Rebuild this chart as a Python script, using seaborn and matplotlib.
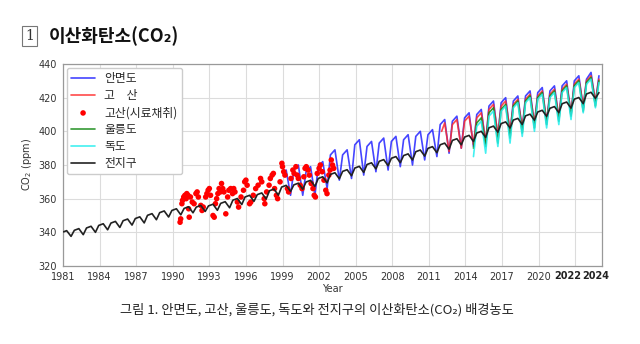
import matplotlib
matplotlib.use('Agg')
import matplotlib.pyplot as plt
import seaborn as sns
import pandas as pd

# ---------------- data ----------------
# Global mean (black): spring max, late-summer min and December value per year
global_years = list(range(1981, 2025))
global_max = [341.0, 342.2, 343.6, 345.1, 346.5, 347.9, 349.2, 351.1, 352.7, 354.0,
              355.2, 356.0, 356.7, 358.2, 360.1, 362.0, 363.4, 365.7, 367.9, 369.2,
              370.9, 373.0, 375.4, 377.2, 379.2, 381.3, 383.2, 385.0, 386.6, 388.9,
              390.9, 393.0, 395.6, 397.6, 400.0, 403.1, 405.6, 407.7, 410.2, 412.5,
              414.7, 417.4, 420.1, 423.2]
global_min = [337.6, 338.6, 340.0, 341.5, 342.9, 344.3, 345.6, 347.5, 349.1, 350.4,
              351.6, 352.4, 353.1, 354.6, 356.5, 358.4, 359.8, 362.1, 364.3, 365.6,
              367.3, 369.4, 371.8, 373.6, 375.6, 377.7, 379.6, 381.4, 383.0, 385.3,
              387.3, 389.4, 392.0, 394.0, 396.4, 399.5, 402.0, 404.1, 406.6, 408.9,
              411.1, 413.8, 416.5, 419.6]
global_dec_years = list(range(1981, 2024))
global_dec = [341.2, 342.6, 344.1, 345.5, 346.9, 348.2, 350.1, 351.7, 353.0, 354.2,
              355.0, 355.7, 357.2, 359.1, 361.0, 362.4, 364.7, 366.9, 368.2, 369.9,
              372.0, 374.4, 376.2, 378.2, 380.3, 382.2, 384.0, 385.6, 387.9, 389.9,
              392.0, 394.6, 396.6, 399.0, 402.1, 404.6, 406.7, 409.2, 411.5, 413.7,
              416.4, 419.1, 422.2]
global_start = 340.3
global_end = 423.0

# Anmyeondo (blue)
anm_years = list(range(1999, 2025))
anm_max = [377, 380, 379, 382, 389, 389, 395, 394, 396, 397, 398, 400, 401,
           407, 409, 411, 413, 418, 420, 421, 424, 426, 427, 430, 433, 435]
anm_min = [362, 362, 362, 366, 371, 372, 374, 376, 377, 379, 380, 383, 385,
           387, 390, 391, 393, 397, 399, 401, 404, 405, 408, 410, 414, 417]
anm_dec_years = list(range(1999, 2024))
anm_dec = [377, 376, 379, 386, 386, 392, 391, 393, 394, 395, 397, 398, 404,
           406, 408, 410, 415, 417, 418, 421, 423, 424, 427, 430, 431]
anm_end = 433

# Gosan continuous (red line)
gos_years = list(range(2012, 2025))
gos_max = [405, 407, 409, 411, 416, 418, 419, 422, 424, 425, 428, 431, 433]
gos_min = [388, 390, 392, 394, 398, 400, 402, 405, 406, 409, 411, 415, 418]
gos_dec_years = list(range(2012, 2024))
gos_dec = [404, 406, 408, 413, 415, 416, 419, 421, 422, 425, 428, 430]
gos_start = 400
gos_end = 431

# Ulleungdo (green)
ull_years_max = list(range(2015, 2025))
ull_max = [408, 414, 416, 418, 421, 423, 424, 427, 430, 432]
ull_years_min = list(range(2014, 2025))
ull_min = [390, 391, 393, 396, 399, 402, 404, 406, 409, 412, 415]
ull_dec_years = list(range(2014, 2024))
ull_dec = [405, 411, 413, 415, 418, 420, 421, 424, 427, 429]
ull_end = 430

# Dokdo (cyan)
dok_years_max = list(range(2015, 2025))
dok_max = [406, 412, 415, 417, 420, 422, 423, 426, 429, 431]
dok_years_min = list(range(2014, 2025))
dok_min = [385, 387, 391, 393, 397, 400, 402, 404, 407, 411, 414]
dok_dec_years = list(range(2014, 2024))
dok_dec = [403, 409, 412, 414, 417, 419, 420, 423, 426, 428]
dok_end = 429

# Gosan flask samples (red dots)
flask_t = [1990.6, 1990.65, 1990.75, 1990.8, 1990.9, 1991.0, 1991.1, 1991.15, 1991.25, 1991.3,
           1991.35, 1991.45, 1991.6, 1991.75, 1991.9, 1992.0, 1992.1, 1992.3, 1992.4, 1992.5,
           1992.7, 1992.8, 1992.9, 1993.0, 1993.1, 1993.3, 1993.4, 1993.5, 1993.6, 1993.7,
           1993.8, 1993.9, 1994.0, 1994.1, 1994.2, 1994.35, 1994.5, 1994.6, 1994.75, 1994.9,
           1995.0, 1995.1, 1995.3, 1995.4, 1995.6, 1995.8, 1995.9, 1996.0, 1996.1, 1996.3,
           1996.4, 1996.6, 1996.8, 1997.0, 1997.2, 1997.3, 1997.5, 1997.55, 1997.7, 1997.9,
           1998.0, 1998.15, 1998.25, 1998.35, 1998.5, 1998.6, 1998.8, 1998.95, 1999.0, 1999.1,
           1999.2, 1999.4, 1999.5, 1999.7, 1999.85, 1999.95, 2000.1, 2000.2, 2000.3, 2000.45,
           2000.6, 2000.75, 2000.85, 2000.95, 2001.1, 2001.2, 2001.35, 2001.5, 2001.6, 2001.7,
           2001.85, 2002.0, 2002.1, 2002.25, 2002.4, 2002.55, 2002.65, 2002.8, 2002.9, 2003.0,
           2003.1, 2003.2]
flask_v = [346, 348, 357, 359, 361, 362, 360, 363, 362, 354,
           349, 361, 358, 357, 363, 364, 361, 356, 353, 355,
           361, 363, 365, 366, 362, 350, 349, 357, 360, 363,
           366, 364, 369, 366, 364, 351, 361, 365, 366, 363,
           366, 364, 358, 355, 361, 365, 370, 371, 368, 357,
           358, 362, 366, 368, 372, 370, 360, 357, 364, 368,
           372, 374, 375, 366, 362, 360, 370, 381, 379, 376,
           374, 366, 364, 372, 377, 375, 379, 374, 372, 368,
           366, 373, 378, 379, 377, 374, 369, 366, 362, 361,
           375, 378, 380, 376, 371, 365, 363, 374, 377, 383,
           380, 378]

x_ticks = list(range(1981, 2024, 3))
x_labels = [str(y) for y in range(1981, 2021, 3)] + ['']
y_ticks = [320, 340, 360, 380, 400, 420, 440]

labels = ['안면도', '고\u3000산', '고산(시료채취)', '울릉도', '독도', '전지구']
colors = ['#2424ff', '#ff2b2b', '#ff0000', '#118811', '#22eeee', '#222222']


def saw(max_years, vmax, min_years, vmin, dec_years, vdec, first=None, last=None):
    t = ([y + 0.30 for y in max_years] + [y + 0.66 for y in min_years]
         + [y + 0.93 for y in dec_years])
    v = list(vmax) + list(vmin) + list(vdec)
    if first is not None:
        t.append(min(t) - 0.25)
        v.append(first)
    if last is not None:
        t.append(max(max_years + min_years) + 0.95)
        v.append(last)
    return pd.DataFrame({'t': t, 'v': v}).sort_values('t')


df_glob = saw(global_years, global_max, global_years, global_min,
              global_dec_years, global_dec, global_start, global_end)
df_anm = saw(anm_years, anm_max, anm_years, anm_min, anm_dec_years, anm_dec, None, anm_end)
df_gos = saw(gos_years, gos_max, gos_years, gos_min, gos_dec_years, gos_dec, gos_start, gos_end)
df_ull = saw(ull_years_max, ull_max, ull_years_min, ull_min, ull_dec_years, ull_dec, None, ull_end)
df_dok = saw(dok_years_max, dok_max, dok_years_min, dok_min, dok_dec_years, dok_dec, None, dok_end)
df_flask = pd.DataFrame({'t': flask_t, 'v': flask_v})

# ---------------- plot ----------------
sns.set_theme(style='whitegrid')
plt.rcParams['font.family'] = ['DejaVu Sans', 'Noto Sans CJK KR']
KR = ['Noto Sans CJK KR', 'DejaVu Sans']

fig = plt.figure(figsize=(6.4, 3.44), dpi=100)
ax = fig.add_axes([63 / 640, 78 / 344, 539 / 640, 202 / 344])
ax.set_facecolor('white')

lw = 1.2
sns.lineplot(data=df_anm, x='t', y='v', ax=ax, color=colors[0], lw=lw, alpha=0.85,
             estimator=None, sort=False, label=labels[0])
sns.lineplot(data=df_gos, x='t', y='v', ax=ax, color=colors[1], lw=lw, alpha=0.85,
             estimator=None, sort=False, label=labels[1])
sns.scatterplot(data=df_flask, x='t', y='v', ax=ax, color=colors[2], s=16,
                edgecolor='none', label=labels[2], zorder=3)
sns.lineplot(data=df_ull, x='t', y='v', ax=ax, color=colors[3], lw=lw, alpha=0.85,
             estimator=None, sort=False, label=labels[3])
sns.lineplot(data=df_dok, x='t', y='v', ax=ax, color=colors[4], lw=lw, alpha=0.85,
             estimator=None, sort=False, label=labels[4])
sns.lineplot(data=df_glob, x='t', y='v', ax=ax, color=colors[5], lw=lw,
             estimator=None, sort=False, label=labels[5], zorder=4)

ax.set_xlim(1981, 2025.2)
ax.set_ylim(320, 440)
ax.set_xticks(x_ticks)
ax.set_xticklabels(x_labels)
ax.set_yticks(y_ticks)
ax.tick_params(axis='both', labelsize=7, colors='#333333', length=3, width=0.8, pad=1.5)
ax.tick_params(axis='both', color='#888888')
ax.grid(True, color='#dcdcdc', lw=0.8)
for s in ax.spines.values():
    s.set_color('#999999')
    s.set_linewidth(0.9)

ax.set_xlabel('Year', fontsize=7, color='#333333', labelpad=1)
ax.set_ylabel('CO$_2$ (ppm)', fontsize=7, color='#333333', labelpad=3)

# bold last labels
for yr, txt in [(2022.4, '2022'), (2024.7, '2024')]:
    ax.annotate(txt, xy=(yr, 0), xycoords=('data', 'axes fraction'),
                xytext=(0, -3.5), textcoords='offset points', ha='center', va='top',
                fontsize=7, fontweight='bold', color='#222222')

leg = ax.legend(loc='upper left', prop={'family': KR, 'size': 8.5}, frameon=True,
                labelspacing=0.33, handlelength=2.0, borderpad=0.4,
                borderaxespad=0.3, handletextpad=0.8, markerscale=1.0)
leg.get_frame().set_edgecolor('#cccccc')
leg.get_frame().set_facecolor('white')
leg.get_frame().set_alpha(1.0)

# title
fig.text(29.5 / 640, 1 - 36 / 344, '1', ha='center', va='center', fontsize=10,
         family='DejaVu Serif', color='#333333',
         bbox=dict(boxstyle='square,pad=0.22', fc='white', ec='#777777', lw=0.8))
fig.text(49 / 640, 1 - 36 / 344, '이산화탄소(CO₂)', ha='left', va='center',
         fontsize=13, fontweight='bold', family=KR, color='#111111')

# caption
fig.text(317 / 640, 1 - 310 / 344,
         '그림 1. 안면도, 고산, 울릉도, 독도와 전지구의 이산화탄소(CO₂) 배경농도',
         ha='center', va='center', fontsize=9.5, family=KR, color='#222222')

fig.savefig('out.png', dpi=100, facecolor='white')
